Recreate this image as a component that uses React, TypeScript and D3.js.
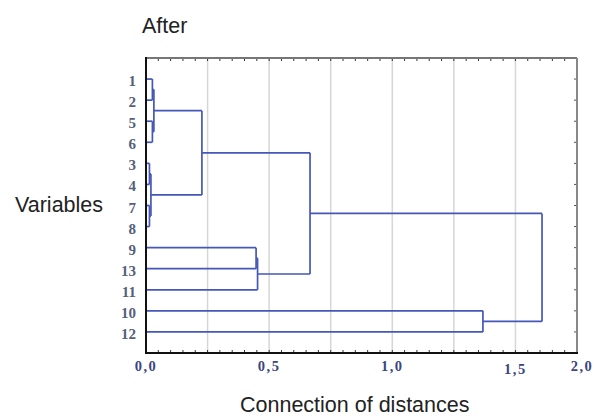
import React from "react";
import * as d3 from "d3";

// leaf order (top to bottom) as shown on the tree
const leaves = ["1", "2", "5", "6", "3", "4", "7", "8", "9", "13", "11", "10", "12"];

// merges: m0, m1, ... in order of creation
const mergeLeft = ["1", "5", "m0", "3", "7", "m3", "m2", "9", "m7", "m6", "10", "m9"];
const mergeRight = ["2", "6", "m1", "4", "8", "m4", "m5", "13", "11", "m8", "12", "m10"];
const mergeHeight = [0.026, 0.026, 0.032, 0.014, 0.014, 0.02, 0.227, 0.447, 0.453, 0.666, 1.368, 1.608];

// x axis ticks as labelled on the original
const tickValues = [0, 0.5, 1.0, 1.5, 1.75];
const tickLabels = ["0,0", "0,5", "1,0", "1,5", "2,0"];

const W = 595;
const H = 416;
const margin = { top: 58, right: 18, bottom: 63, left: 146 };

export default function App() {
  const x = d3.scaleLinear().domain([0, 1.75]).range([margin.left, W - margin.right]);
  const y = d3.scalePoint<string>().domain(leaves).range([margin.top, H - margin.bottom]).padding(1);

  const lineColor = "#4557b8";

  // positions of every node
  const pos: Record<string, { x: number; y: number }> = {};
  leaves.forEach((l) => (pos[l] = { x: x(0), y: y(l)! }));

  const segs: { x1: number; y1: number; x2: number; y2: number }[] = [];
  mergeHeight.forEach((h, i) => {
    const a = pos[mergeLeft[i]];
    const b = pos[mergeRight[i]];
    const xm = x(h);
    segs.push({ x1: a.x, y1: a.y, x2: xm, y2: a.y });
    segs.push({ x1: b.x, y1: b.y, x2: xm, y2: b.y });
    segs.push({ x1: xm, y1: a.y, x2: xm, y2: b.y });
    pos["m" + i] = { x: xm, y: (a.y + b.y) / 2 };
  });

  const grid = d3.range(0.25, 1.75, 0.25);
  const minor = d3.range(0.05, 1.75, 0.05);
  const x0 = margin.left;
  const x1 = W - margin.right;
  const y0 = margin.top;
  const y1 = H - margin.bottom;

  return (
    <svg width={W} height={H} style={{ position: "absolute", left: 0, top: 0 }}>
      <rect width={W} height={H} fill="#fff" />
      {/* gridlines */}
      {grid.map((g, i) => (
        <line key={"g" + i} x1={x(g)} x2={x(g)} y1={y0} y2={y1} stroke="#d6d6d6" strokeWidth={1.5} />
      ))}
      {/* minor ticks top & bottom */}
      {minor.map((m, i) => (
        <g key={"m" + i}>
          <line x1={x(m)} x2={x(m)} y1={y0} y2={y0 + 3} stroke="#333" strokeWidth={1} />
          <line x1={x(m)} x2={x(m)} y1={y1} y2={y1 - 3} stroke="#333" strokeWidth={1} />
        </g>
      ))}
      {/* right side ticks */}
      {leaves.map((l) => (
        <line key={"r" + l} x1={x1} x2={x1 - 3} y1={y(l)} y2={y(l)} stroke="#555" strokeWidth={1} />
      ))}
      {/* dendrogram */}
      {segs.map((s, i) => (
        <line key={"s" + i} x1={s.x1} y1={s.y1} x2={s.x2} y2={s.y2} stroke={lineColor} strokeWidth={1.7} />
      ))}
      {/* frame */}
      <line x1={x0} x2={x1} y1={y0} y2={y0} stroke="#777" strokeWidth={2} />
      <line x1={x1} x2={x1} y1={y0} y2={y1} stroke="#888" strokeWidth={2} />
      <line x1={x0} x2={x1 + 1} y1={y1} y2={y1} stroke="#111" strokeWidth={2} />
      <line x1={x0} x2={x0} y1={y0 - 1} y2={y1 + 1} stroke="#111" strokeWidth={2} />
      {/* leaf labels */}
      {leaves.map((l) => (
        <text
          key={"l" + l}
          x={136}
          y={y(l)! + 7}
          textAnchor="end"
          fontFamily="Liberation Serif, serif"
          fontWeight="bold"
          fontSize={15}
          fill="#55607a"
        >
          {l}
        </text>
      ))}
      {/* x tick labels */}
      {tickValues.map((t, i) => (
        <text
          key={"t" + i}
          x={i === tickValues.length - 1 ? x(t) + 5 : x(t)}
          y={i === 3 ? 374 : 371}
          textAnchor="middle"
          fontFamily="Liberation Serif, serif"
          fontWeight="bold"
          fontSize={14.5}
          letterSpacing={1.5}
          fill="#3b4680"
        >
          {tickLabels[i]}
        </text>
      ))}
      <text x={142} y={33} fontFamily="Liberation Sans, Arial, sans-serif" fontSize={21.5} fill="#222">
        After
      </text>
      <text x={15} y={212} fontFamily="Liberation Sans, Arial, sans-serif" fontSize={21.5} fill="#222">
        Variables
      </text>
      <text x={240} y={412} fontFamily="Liberation Sans, Arial, sans-serif" fontSize={21.5} fill="#222">
        Connection of distances
      </text>
    </svg>
  );
}
